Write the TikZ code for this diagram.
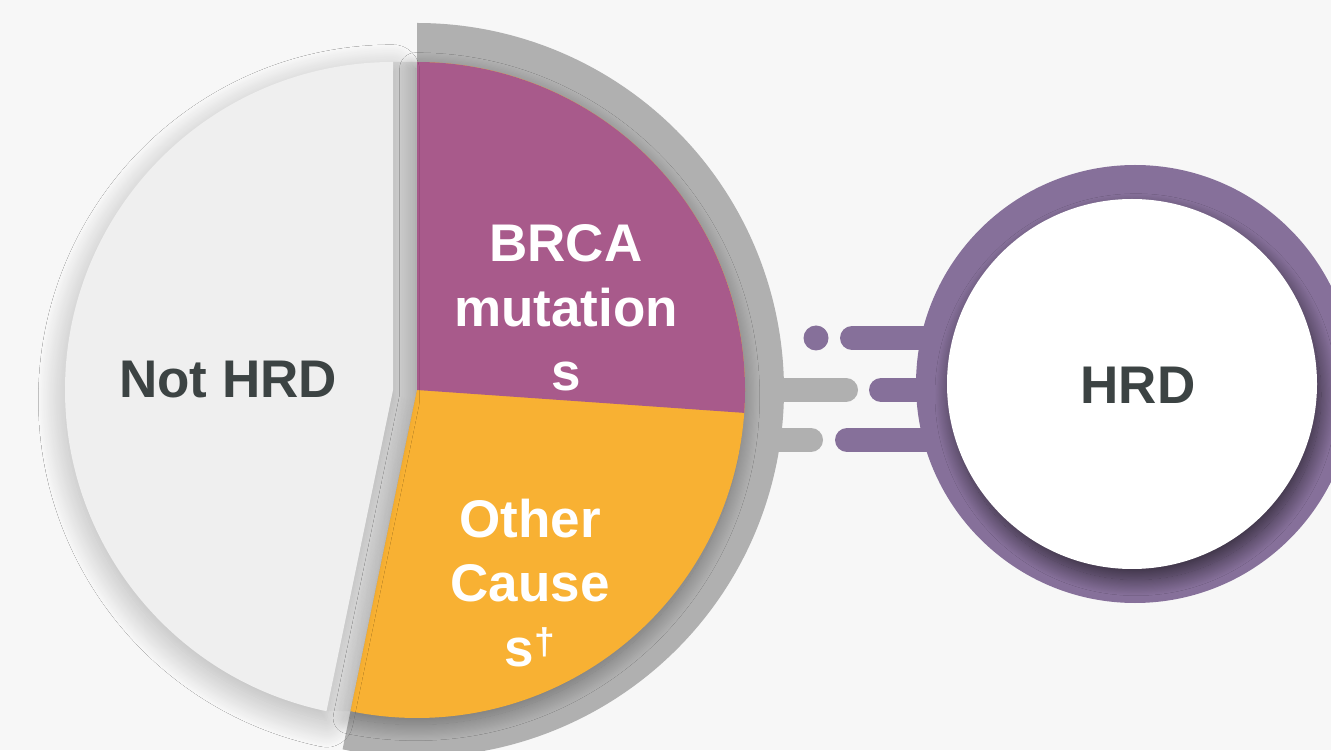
\documentclass[tikz,border=0pt]{standalone}
\usepackage{fontspec}
\setmainfont{Liberation Sans}
\usetikzlibrary{shadows.blur}
\definecolor{bg}{HTML}{F7F7F7}
\definecolor{ringgray}{HTML}{B0B0B0}
\definecolor{brcacol}{HTML}{A85A8B}
\definecolor{othercol}{HTML}{F8B133}
\definecolor{nothrdcol}{HTML}{EFEFEF}
\definecolor{hrdpurple}{HTML}{86709A}
\definecolor{txtdark}{HTML}{3C4343}
\tikzset{
  graybar/.style={draw=ringgray, line width=18pt, line cap=round},
  purplebar/.style={draw=hrdpurple, line width=18pt, line cap=round},
  bigtext/.style={font=\bfseries\fontsize{39.75}{48.5}\selectfont, align=center, inner sep=0pt},
}
\begin{document}
\begin{tikzpicture}[x=0.75pt,y=0.75pt]
\useasboundingbox (0,0) rectangle (1331,750);
\fill[bg] (0,0) rectangle (1331,750);

% gray bars
\draw[graybar] (770,360) -- (846,360);
\draw[graybar] (770,310) -- (811,310);

% gray ring sector
\fill[ringgray] (417,360) -- ++(-101.7:367) arc[start angle=-101.7, end angle=90, radius=367] -- cycle;

% shaded gap between exploded slice and the rest
\shade[left color=black!5, right color=black!13]
  (393,688) -- (417,688) -- (417,360) -- (350.5,38.8) -- (326.5,38.8) -- (393,360) -- cycle;

% colored slices
\fill[othercol, blur shadow={shadow xshift=-1pt, shadow yshift=-5pt, shadow blur radius=12pt, shadow blur steps=30, shadow opacity=35}]
  (417,360) -- ++(90:328) arc[start angle=90, end angle=-101.7, radius=328] -- cycle;
\fill[brcacol] (417,360) -- ++(90:328) arc[start angle=90, end angle=-4, radius=328] -- cycle;

% Not HRD slice
\fill[nothrdcol, blur shadow={shadow xshift=0pt, shadow yshift=-7pt, shadow blur radius=20pt, shadow blur steps=40, shadow opacity=28}]
  (393,360) -- ++(90:328) arc[start angle=90, end angle=258.3, radius=328] -- cycle;

% purple bars and dot
\draw[purplebar] (852,412) -- (950,412);
\draw[purplebar] (881,360) -- (950,360);
\draw[purplebar] (847,310) -- (950,310);
\fill[hrdpurple] (816,412) circle[radius=12.5];

% HRD circle
\fill[hrdpurple] (1135,366) circle[radius=219];
\fill[white, blur shadow={shadow xshift=3pt, shadow yshift=-8pt, shadow blur radius=12pt, shadow blur steps=30, shadow opacity=60}]
  (1132,366) circle[radius=185];

% texts
\node[bigtext, text=txtdark] (nothrd) at (228,370) {Not HRD};
\node[bigtext, text=white] (brca) at (566,442) {BRCA\\mutation\\s};
\node[bigtext, text=white] (other) at (530,167) {Other\\Cause\\s\textsuperscript{†}};
\node[bigtext, text=txtdark] (hrd) at (1138,365) {HRD};
\end{tikzpicture}
\end{document}
